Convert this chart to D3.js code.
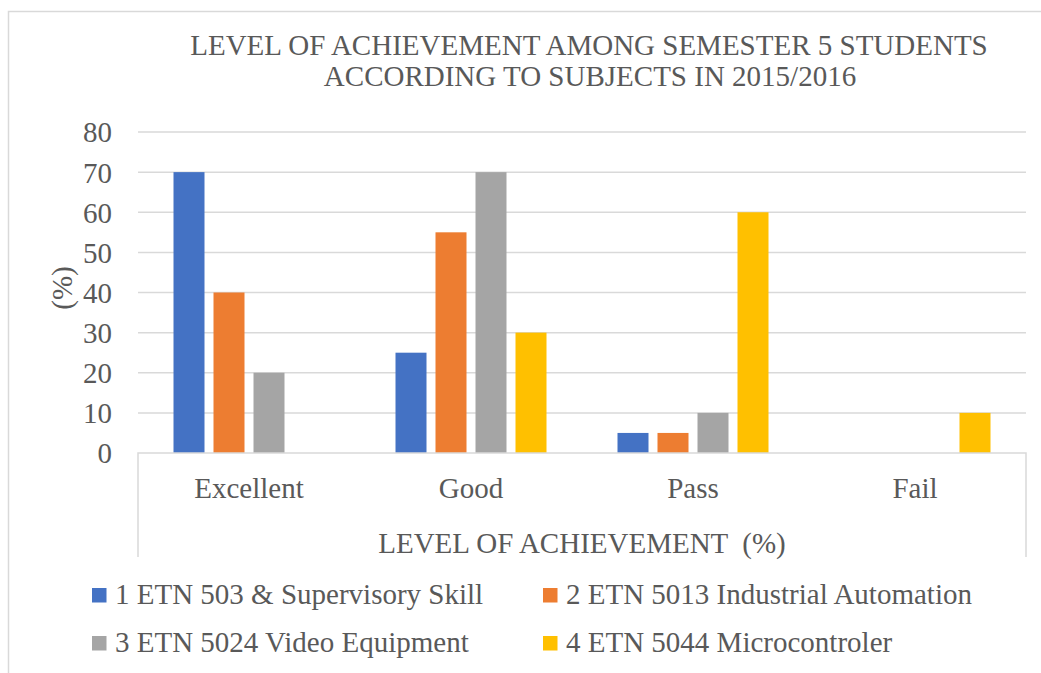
<!DOCTYPE html>
<html>
<head>
<meta charset="utf-8">
<script src="https://cdn.jsdelivr.net/npm/d3@7"></script>
<style>
  body { margin: 0; background: #fff; }
  svg { display: block; }
  text { font-family: "Liberation Serif", "Times New Roman", serif; fill: #595959; }
</style>
</head>
<body>
<svg width="1041" height="673"></svg>
<script>
var levels = ['Excellent', 'Good', 'Pass', 'Fail'];

var subjects = [
    '1 ETN 503 & Supervisory Skill',
    '2 ETN 5013 Industrial Automation',
    '3 ETN 5024 Video Equipment',
    '4 ETN 5044 Microcontroler',
];

// one array per subject, in order of levels
var supervisory = [70, 25, 5, 0];
var automation  = [40, 55, 5, 0];
var video       = [20, 70, 10, 0];
var micro       = [0, 30, 60, 10];

var yTicks = [0, 10, 20, 30, 40, 50, 60, 70, 80];

var colors = ['#4472C4', '#ED7D31', '#A5A5A5', '#FFC000'];

var series = [supervisory, automation, video, micro];

var svg = d3.select('svg'),
    fontSize = 29,
    grid = '#d9d9d9';

// plot box (note: "top" is taken by window.top, so prefix these)
var plotLeft = 138, plotRight = 1026, plotTop = 132, plotBottom = 453;

// chart area border (runs off the right and bottom of the picture)
svg.append('rect')
    .attr('x', 8.5).attr('y', 11.5)
    .attr('width', 1200).attr('height', 1000)
    .attr('fill', 'none')
    .attr('stroke', grid)
    .attr('stroke-width', 1.5);

var title = svg.append('text')
    .attr('text-anchor', 'middle')
    .style('font-size', fontSize + 'px');
title.append('tspan').attr('x', 589).attr('y', 55)
    .text('LEVEL OF ACHIEVEMENT AMONG SEMESTER 5 STUDENTS');
title.append('tspan').attr('x', 590).attr('y', 86)
    .text('ACCORDING TO SUBJECTS IN 2015/2016');

var y = d3.scaleLinear().domain([0, 80]).range([plotBottom, plotTop]);

var x0 = d3.scaleBand().domain(levels).range([plotLeft, plotRight]);

var x1 = d3.scaleBand().domain(d3.range(subjects.length))
    .range([35.5, x0.bandwidth() - 35.5])
    .paddingInner(0.225);

// gridlines
svg.append('g')
    .selectAll('line')
    .data(yTicks.filter(function (t) { return t > 0; }))
    .join('line')
    .attr('x1', plotLeft).attr('x2', plotRight)
    .attr('y1', function (d) { return y(d); })
    .attr('y2', function (d) { return y(d); })
    .attr('stroke', grid)
    .attr('stroke-width', 1.5);

// y axis labels
var yAxis = d3.axisLeft(y).tickValues(yTicks).tickSize(0).tickPadding(26);
svg.append('g')
    .attr('transform', 'translate(' + plotLeft + ',0)')
    .call(yAxis)
    .call(function (g) {
        g.select('.domain').remove();
        g.selectAll('text')
            .attr('font-family', null)
            .style('font-size', fontSize + 'px')
            .attr('dy', '0.34em');
    });

svg.append('text')
    .attr('transform', 'translate(62,288) rotate(-90)')
    .attr('text-anchor', 'middle')
    .attr('dy', '0.34em')
    .style('font-size', fontSize + 'px')
    .text('(%)');

// bars
var groups = svg.append('g')
    .selectAll('g')
    .data(levels)
    .join('g')
    .attr('transform', function (d) { return 'translate(' + x0(d) + ',0)'; });

groups.selectAll('rect')
    .data(function (d, i) {
        return series.map(function (s, k) { return { k: k, value: s[i] }; });
    })
    .join('rect')
    .filter(function (d) { return d.value > 0; })
    .attr('x', function (d) { return x1(d.k); })
    .attr('width', x1.bandwidth())
    .attr('y', function (d) { return y(d.value); })
    .attr('height', function (d) { return y(0) - y(d.value); })
    .attr('fill', function (d) { return colors[d.k]; });

// category axis box
var axisBottom = 557;
svg.append('path')
    .attr('d', 'M' + plotLeft + ',' + axisBottom + 'V' + plotBottom + 'H' + plotRight + 'V' + axisBottom)
    .attr('fill', 'none')
    .attr('stroke', grid)
    .attr('stroke-width', 1.5);

var xAxis = d3.axisBottom(x0).tickSize(0).tickPadding(0);
svg.append('g')
    .attr('transform', 'translate(0,' + plotBottom + ')')
    .call(xAxis)
    .call(function (g) {
        g.select('.domain').remove();
        g.selectAll('text')
            .attr('font-family', null)
            .style('font-size', fontSize + 'px')
            .attr('y', 45)
            .attr('dy', null);
    });

svg.append('text')
    .attr('x', (plotLeft + plotRight) / 2)
    .attr('y', 553)
    .attr('text-anchor', 'middle')
    .style('font-size', fontSize + 'px')
    .style('white-space', 'pre')
    .text('LEVEL OF ACHIEVEMENT  (%)');

// legend, two columns
var legendX = [92, 543], legendY = [604, 652];
var legend = svg.append('g')
    .selectAll('g')
    .data(subjects)
    .join('g')
    .attr('transform', function (d, i) {
        return 'translate(' + legendX[i % 2] + ',' + legendY[Math.floor(i / 2)] + ')';
    });

legend.append('rect')
    .attr('x', 0).attr('y', -16)
    .attr('width', 14.5).attr('height', 14.5)
    .attr('fill', function (d, i) { return colors[i]; });

legend.append('text')
    .attr('x', 23)
    .style('font-size', fontSize + 'px')
    .text(function (d) { return d; });
</script>
</body>
</html>
